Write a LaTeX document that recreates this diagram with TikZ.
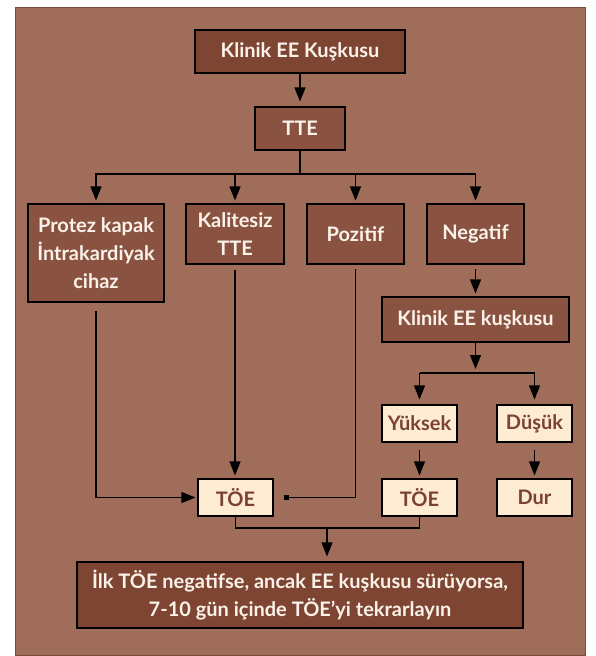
\documentclass[tikz,border=0pt]{standalone}
\usepackage{fontspec}
\setmainfont{Lato}[BoldFont={Lato Bold}]
\usetikzlibrary{arrows.meta}
\definecolor{panel}{HTML}{A06D5A}
\definecolor{panelline}{HTML}{7A4A3A}
\definecolor{darkbox}{HTML}{7E4533}
\definecolor{midbox}{HTML}{8A5341}
\definecolor{cream}{HTML}{FDEBD2}
\definecolor{browntext}{HTML}{7B4232}
\definecolor{whitetext}{HTML}{FBF2EA}
\tikzset{
  x=1pt, y=-1pt,
  box/.style={draw=black, line width=1.1pt, inner sep=0pt, align=center,
    font=\fontsize{20}{28}\selectfont\bfseries},
  darkb/.style={box, fill=darkbox, text=whitetext},
  midb/.style={box, fill=midbox, text=whitetext},
  lightb/.style={box, fill=cream, text=browntext},
  conn/.style={line width=1.1pt, draw=black},
  arr/.style={conn, -{Triangle[width=11pt,length=14pt]}},
  sqarr/.style={conn, -{Square[width=5.5pt,length=5.5pt]}},
}
\begin{document}
\begin{tikzpicture}
\useasboundingbox (0,0) rectangle (595,656);
\draw[fill=panel, draw=panelline, line width=0.8pt] (15,7) rectangle (585,655);

\node[darkb, minimum width=210pt, minimum height=43pt] (k1) at (300,51.5) {Klinik EE Kuşkusu};
\node[midb, minimum width=90pt, minimum height=43pt] (tte) at (300,128.5) {TTE};
\node[midb, minimum width=136pt, minimum height=98pt] (protez) at (96,253) {Protez kapak\\İntrakardiyak\\cihaz};
\node[midb, minimum width=98pt, minimum height=60pt] (kal) at (235,234) {Kalitesiz\\TTE};
\node[midb, minimum width=97pt, minimum height=60pt] (poz) at (355.5,234) {Pozitif};
\node[midb, minimum width=97pt, minimum height=60pt] (neg) at (475.5,234) {Negatif};
\node[midb, minimum width=187pt, minimum height=45pt] (k2) at (475.5,319.5) {Klinik EE kuşkusu};
\node[lightb, minimum width=75pt, minimum height=37pt] (yuk) at (419.5,423.5) {Yüksek};
\node[lightb, minimum width=75pt, minimum height=37pt] (dus) at (534.5,423.5) {Düşük};
\node[lightb, minimum width=75pt, minimum height=37pt] (toe2) at (419.5,497.5) {TÖE};
\node[lightb, minimum width=75pt, minimum height=37pt] (dur) at (534.5,497.5) {Dur};
\node[lightb, minimum width=75pt, minimum height=37pt] (toe1) at (235.5,497.5) {TÖE};
\node[darkb, minimum width=446pt, minimum height=66pt] (fin) at (300,595) {İlk TÖE negatifse, ancak EE kuşkusu sürüyorsa,\\7-10 gün içinde TÖE’yi tekrarlayın};

\coordinate (b1) at (300,174);
\coordinate (b2) at (475.5,373);
\coordinate (j) at (327,528);

\draw[arr] (k1.south) -- ([yshift=5pt]tte.north);
\draw[conn] (tte.south) -- (b1);
\draw[arr] (b1) -| ([yshift=3pt]protez.north);
\draw[arr] (b1) -| ([yshift=3pt]kal.north);
\draw[arr] (b1) -| ([yshift=3pt]poz.north);
\draw[arr] (b1) -| ([yshift=3pt]neg.north);

\draw[arr] ([yshift=-8pt]protez.south) |- ([xshift=-2pt]toe1.west);
\draw[arr] ([yshift=-5pt]kal.south) -- ([yshift=3pt]kal.south |- toe1.north);
\draw[sqarr] ([yshift=-4pt]poz.south) |- ([xshift=10pt]toe1.east);

\draw[arr] ([yshift=-4pt]neg.south) -- ([yshift=3pt]k2.north);
\draw[arr] (k2.south) -- ([yshift=4pt]b2);
\draw[conn] (yuk.north |- b2) -- (dus.north |- b2);
\draw[arr] (yuk.north |- b2) -- ([yshift=5pt]yuk.north);
\draw[arr] (dus.north |- b2) -- ([yshift=5pt]dus.north);
\draw[arr] ([yshift=-7pt]yuk.south) -- ([yshift=3pt]toe2.north);
\draw[arr] ([yshift=-7pt]dus.south) -- ([yshift=3pt]dur.north);

\draw[conn] (toe1.south) |- (j) -| (toe2.south);
\draw[arr] (j) -- ([yshift=5pt]j |- fin.north);
\end{tikzpicture}
\end{document}
